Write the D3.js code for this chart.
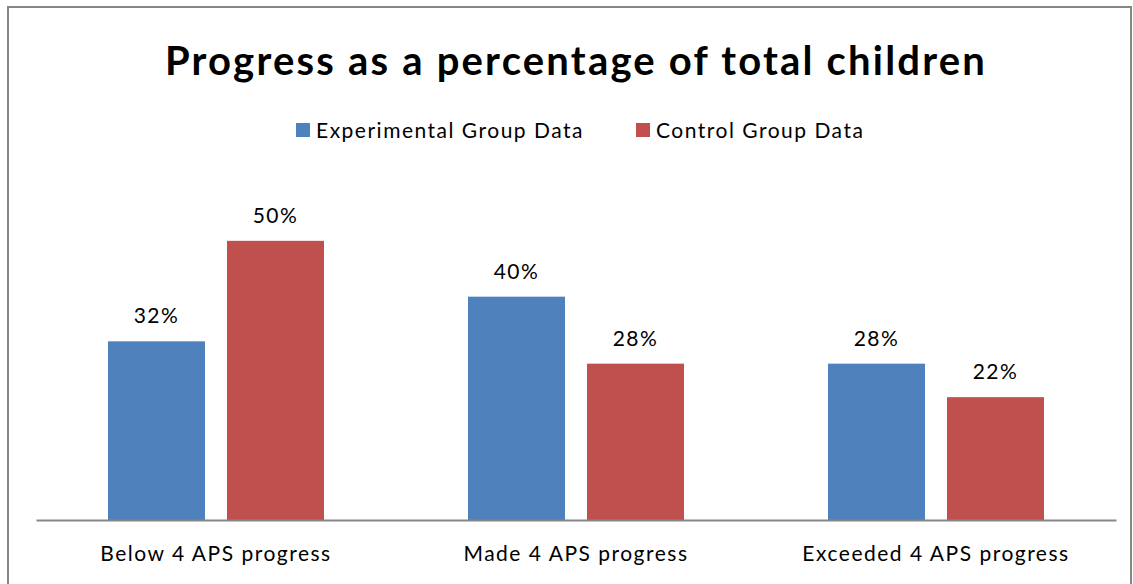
<!DOCTYPE html>
<meta charset="utf-8">
<script src="https://d3js.org/d3.v7.min.js"></script>
<style>
  body { margin: 0; background: #fff; }
  text { font-family: Lato, "Open Sans", sans-serif; }
</style>
<div id="my_dataviz"></div>
<script>

// data
var categories = ["Below 4 APS progress", "Made 4 APS progress", "Exceeded 4 APS progress"];
var seriesNames = ["Experimental Group Data", "Control Group Data"];
var experimental = [0.32, 0.40, 0.28];
var control = [0.50, 0.28, 0.22];
var colors = ["#4f81bd", "#c0504d"];

var W = 1133, H = 584;

var svg = d3.select("#my_dataviz")
  .append("svg")
    .attr("width", W)
    .attr("height", H);

// outer frame
svg.append("rect")
  .attr("x", 8).attr("y", 7)
  .attr("width", 1123).attr("height", 600)
  .attr("fill", "none")
  .attr("stroke", "#868686")
  .attr("stroke-width", 2);

// title
svg.append("text")
  .attr("x", 576).attr("y", 75)
  .attr("text-anchor", "middle")
  .style("font-size", "40px")
  .style("font-weight", "bold")
  .style("letter-spacing", "2.2px")
  .text("Progress as a percentage of total children");

// scales
var x0 = d3.scaleBand()
  .domain(categories)
  .range([36, 1116])
  .paddingInner(0.4)
  .paddingOuter(0.2);

var x1 = d3.scaleBand()
  .domain(seriesNames)
  .range([0, x0.bandwidth()])
  .paddingInner(0.185);

var y = d3.scaleLinear()
  .domain([0, 0.6])
  .range([520, 185]);

var rows = categories.map(function(c, i) {
  return { cat: c, values: [experimental[i], control[i]] };
});

var groups = svg.selectAll(".grp")
  .data(rows)
  .enter().append("g")
    .attr("transform", function(d) { return "translate(" + x0(d.cat) + ",0)"; });

groups.selectAll("rect")
  .data(function(d) { return d.values.map(function(v, j) { return { s: seriesNames[j], v: v, j: j }; }); })
  .enter().append("rect")
    .attr("x", function(d) { return x1(d.s); })
    .attr("y", function(d) { return y(d.v); })
    .attr("width", x1.bandwidth())
    .attr("height", function(d) { return y(0) - y(d.v); })
    .attr("fill", function(d) { return colors[d.j]; });

// value labels
groups.selectAll(".lbl")
  .data(function(d) { return d.values.map(function(v, j) { return { s: seriesNames[j], v: v }; }); })
  .enter().append("text")
    .attr("x", function(d) { return x1(d.s) + x1.bandwidth() / 2; })
    .attr("y", function(d) { return y(d.v) - 18; })
    .attr("text-anchor", "middle")
    .style("font-size", "21px")
    .style("letter-spacing", "1.5px")
    .text(function(d) { return d3.format(".0%")(d.v); });

// x axis (baseline + category labels)
var xAxis = svg.append("g")
  .attr("transform", "translate(0," + y(0) + ")")
  .call(d3.axisBottom(x0).tickSize(0).tickPadding(26).tickSizeOuter(0));
xAxis.select(".domain").attr("stroke", "#868686").attr("stroke-width", 2);
xAxis.selectAll("text")
  .style("font-size", "21px")
  .style("letter-spacing", "1.5px")
  .style("font-family", "Lato, 'Open Sans', sans-serif")
  .attr("fill", "#000");

// legend
var legendX = [296, 636];
var legend = svg.selectAll(".leg")
  .data(seriesNames)
  .enter().append("g")
    .attr("transform", function(d, i) { return "translate(" + legendX[i] + ",123)"; });
legend.append("rect")
  .attr("width", 14).attr("height", 14)
  .attr("fill", function(d, i) { return colors[i]; });
legend.append("text")
  .attr("x", 20).attr("y", 15)
  .style("font-size", "21px")
  .style("letter-spacing", "1.5px")
  .text(function(d) { return d; });

</script>
